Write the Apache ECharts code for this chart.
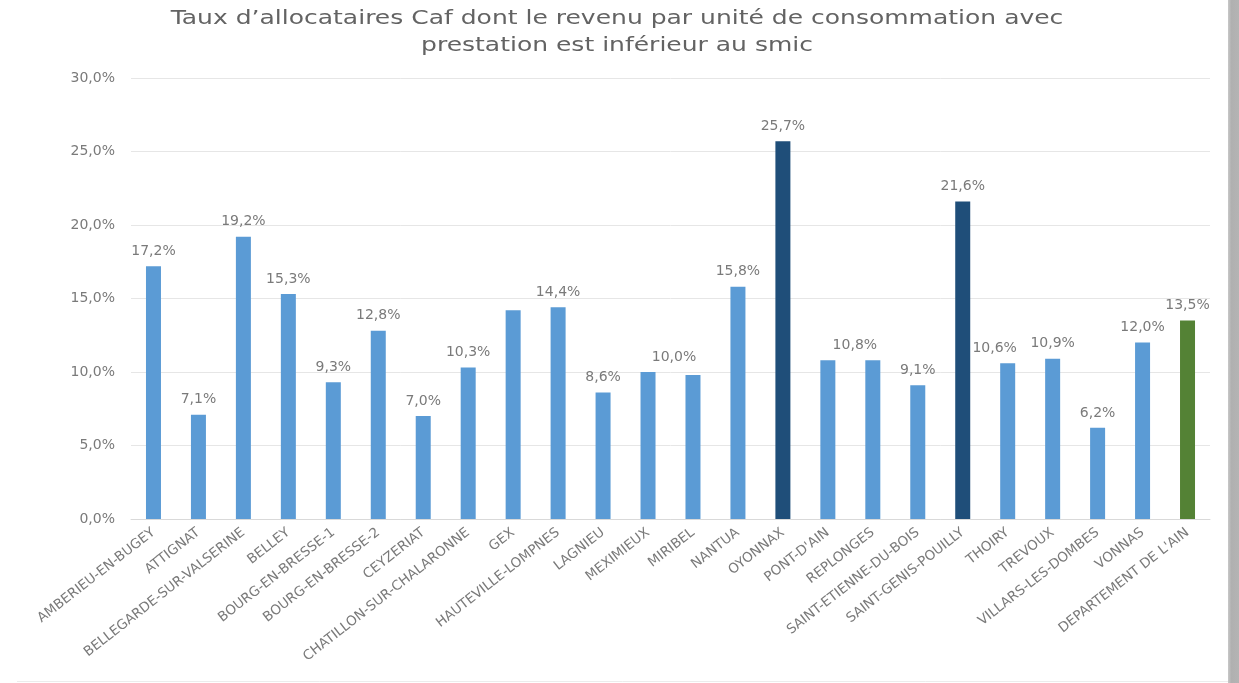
<!DOCTYPE html>
<html lang="fr">
<head>
<meta charset="utf-8">
<title>Taux d'allocataires Caf</title>
<script src="https://cdn.jsdelivr.net/npm/echarts@6/dist/echarts.min.js"></script>
<style>
  html, body { margin: 0; padding: 0; background: #ffffff; }
  #chart { width: 1239px; height: 683px; }
</style>
</head>
<body>
<div id="chart"></div>
<script>
// Communes (cantons) of the Ain department, plus the department total
const categories = [
  'AMBERIEU-EN-BUGEY', 'ATTIGNAT', 'BELLEGARDE-SUR-VALSERINE', 'BELLEY',
  'BOURG-EN-BRESSE-1', 'BOURG-EN-BRESSE-2', 'CEYZERIAT', 'CHATILLON-SUR-CHALARONNE',
  'GEX', 'HAUTEVILLE-LOMPNES', 'LAGNIEU', 'MEXIMIEUX', 'MIRIBEL', 'NANTUA',
  'OYONNAX', "PONT-D'AIN", 'REPLONGES', 'SAINT-ETIENNE-DU-BOIS',
  'SAINT-GENIS-POUILLY', 'THOIRY', 'TREVOUX', 'VILLARS-LES-DOMBES', 'VONNAS',
  "DEPARTEMENT DE L'AIN"
];

// Share of Caf recipients below the SMIC (in %)
const rates = [
  17.2, 7.1, 19.2, 15.3,
  9.3, 12.8, 7.0, 10.3,
  14.2, 14.4, 8.6, 10.0, 9.8, 15.8,
  25.7, 10.8, 10.8, 9.1,
  21.6, 10.6, 10.9, 6.2, 12.0,
  13.5
];

// Bars drawn without a value label
const unlabeled = ['GEX', 'MIRIBEL', 'REPLONGES'];
// Highlighted communes and the department reference bar
const highlighted = ['OYONNAX', 'SAINT-GENIS-POUILLY'];
const departmentTotal = "DEPARTEMENT DE L'AIN";

// Y axis ticks
const yTicks = [0, 5, 10, 15, 20, 25, 30];

const chartTitle = 'Taux d\u2019allocataires Caf dont le revenu par unité de consommation avec\nprestation est inférieur au smic';

const COLOR_BASE = '#5b9bd5';
const COLOR_DARK = '#1f4e79';
const COLOR_TOTAL = '#548235';
const TEXT = '#7a7a7a';

// Horizontal nudges for a few labels (pixels)
const labelShift = { 'MEXIMIEUX': 26, "PONT-D'AIN": 27, 'THOIRY': -13 };

const fmt = v => v.toFixed(1).replace('.', ',') + '%';

const barData = categories.map((name, i) => {
  let color = COLOR_BASE;
  if (highlighted.includes(name)) color = COLOR_DARK;
  if (name === departmentTotal) color = COLOR_TOTAL;
  return {
    value: rates[i],
    itemStyle: { color },
    label: {
      show: !unlabeled.includes(name),
      offset: [labelShift[name] || 0, 0]
    }
  };
});

const chart = echarts.init(document.getElementById('chart'), null, { renderer: 'canvas' });

chart.setOption({
  backgroundColor: '#ffffff',
  animation: false,
  grid: { left: 131, right: 29, top: 78, bottom: 164, containLabel: false },
  xAxis: {
    type: 'category',
    data: categories,
    axisTick: { show: false },
    axisLine: { lineStyle: { color: '#d9d9d9', width: 1 } },
    axisLabel: {
      interval: 0,
      rotate: 38,
      margin: 12,
      fontFamily: 'DejaVu Sans',
      fontSize: 13.5,
      color: TEXT
    }
  },
  yAxis: {
    type: 'value',
    min: yTicks[0],
    max: yTicks[yTicks.length - 1],
    interval: yTicks[1] - yTicks[0],
    axisLine: { show: false },
    axisTick: { show: false },
    splitLine: { lineStyle: { color: '#e6e6e6', width: 1 } },
    axisLabel: {
      margin: 16,
      fontFamily: 'DejaVu Sans',
      fontSize: 14,
      color: TEXT,
      formatter: v => fmt(v)
    }
  },
  series: [{
    type: 'bar',
    data: barData,
    barWidth: 15,
    label: {
      position: 'top',
      distance: 8,
      fontFamily: 'DejaVu Sans',
      fontSize: 14,
      color: TEXT,
      formatter: p => fmt(p.value)
    }
  }],
  graphic: [
    {
      // Chart title, widened horizontally
      type: 'text',
      x: 617,
      y: 5,
      scaleX: 1.25,
      silent: true,
      style: {
        text: chartTitle,
        align: 'center',
        verticalAlign: 'top',
        fontFamily: 'DejaVu Sans',
        fontSize: 20,
        lineHeight: 27,
        fill: '#636363'
      }
    },
    {
      // Frame shadow along the right edge
      type: 'rect',
      shape: { x: 1228, y: 0, width: 11, height: 683 },
      silent: true,
      style: {
        fill: new echarts.graphic.LinearGradient(0, 0, 1, 0, [
          { offset: 0, color: '#c8c8c8' },
          { offset: 0.3, color: '#b0b0b0' },
          { offset: 1, color: '#b4b4b4' }
        ])
      }
    },
    {
      // Faint frame edge at the bottom
      type: 'line',
      shape: { x1: 17, y1: 681.5, x2: 1228, y2: 681.5 },
      silent: true,
      style: { stroke: '#ececec', lineWidth: 1 }
    }
  ]
});
</script>
</body>
</html>
